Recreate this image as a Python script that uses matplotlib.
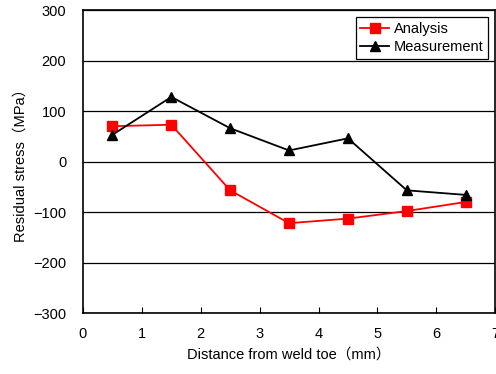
import matplotlib.pyplot as plt

distance = [0.5, 1.5, 2.5, 3.5, 4.5, 5.5, 6.5]
analysis = [70, 73, -57, -122, -113, -98, -80]
measurement = [53, 128, 66, 22, 46, -57, -66]

x_ticks = [0, 1, 2, 3, 4, 5, 6, 7]
y_ticks = [-300, -200, -100, 0, 100, 200, 300]
y_labels = ['\u2212300', '\u2212200', '\u2212100', '0', '100', '200', '300']

plt.rcParams['font.family'] = ['Liberation Sans', 'Noto Sans CJK JP', 'DejaVu Sans']

fig = plt.figure(figsize=(4.96, 3.74), dpi=100)
ax = fig.add_axes([0.1673, 0.163, 0.831, 0.81])

ax.plot(distance, analysis, color='#ff0000', marker='s', ms=7.5, lw=1.3,
        label='Analysis')
ax.plot(distance, measurement, color='black', marker='^', ms=7.5, lw=1.3,
        label='Measurement')

ax.set_xlim(0, 7)
ax.set_ylim(-300, 300)
ax.set_xticks(x_ticks)
ax.set_yticks(y_ticks)
ax.set_yticklabels(y_labels)
ax.tick_params(axis='x', direction='in', length=4, labelsize=10.5, pad=10)
ax.tick_params(axis='y', length=0, labelsize=10.5, pad=12)
ax.yaxis.grid(True, color='black', lw=0.9)
ax.set_axisbelow(True)
for s in ax.spines.values():
    s.set_linewidth(1.2)

ax.set_xlabel('Distance from weld toe\uff08mm\uff09', fontsize=10.5, labelpad=5)
ax.set_ylabel('Residual stress\uff08MPa\uff09', fontsize=10.5, labelpad=4)

leg = ax.legend(loc='upper right', fontsize=10.5, fancybox=False, framealpha=1,
                edgecolor='black', borderpad=0.3, handlelength=2.0,
                handletextpad=0.3, borderaxespad=0.5, labelspacing=0.3)
leg.get_frame().set_linewidth(0.9)

fig.savefig('out.png', dpi=100)
